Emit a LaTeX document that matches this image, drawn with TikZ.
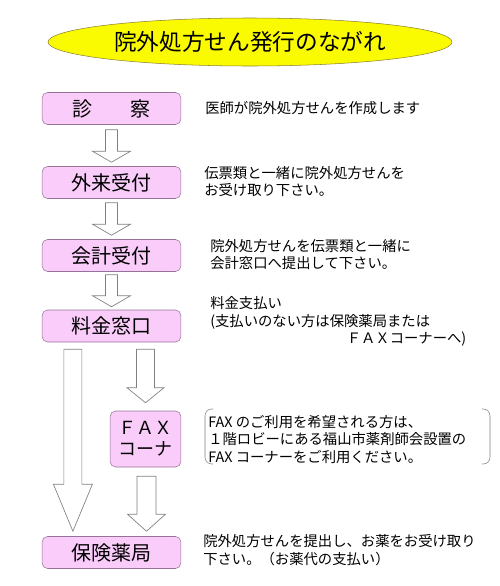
\documentclass[tikz,border=0pt]{standalone}
\usepackage{fontspec}
\setmainfont{Noto Sans CJK JP}
\usetikzlibrary{calc, positioning, shapes.geometric}
\definecolor{boxpink}{RGB}{250,204,250}
\definecolor{boxedge}{RGB}{150,115,150}
\definecolor{titleyellow}{RGB}{250,250,0}
\definecolor{titleedge}{RGB}{140,130,50}
\definecolor{arrowgray}{RGB}{128,128,128}
% hollow down arrow: top, tip, shaft half width, head half width, head length
\newcommand{\blockarrow}[5]{%
  \draw[hollow] ($(#1)+(-#3,0)$) -- ($(#2)+(-#3,-#5)$) -- ($(#2)+(-#4,-#5)$)
    -- (#2) -- ($(#2)+(#4,-#5)$) -- ($(#2)+(#3,-#5)$) -- ($(#1)+(#3,0)$) -- cycle;}

\begin{document}
\begin{tikzpicture}[
      x=0.75pt, y=-0.75pt,
      stepbox/.style={
        draw=boxedge,
        fill=boxpink,
        rounded corners=4pt,
        minimum width=104pt,
        minimum height=24pt,
        inner sep=0pt,
        font=\fontsize{15}{18}\selectfont
      },
      note/.style={anchor=west, align=left, inner sep=0pt,
        font=\fontsize{10.75}{13}\selectfont},
      hollow/.style={draw=arrowgray, fill=white, line width=0.5pt}
    ]
    \useasboundingbox (0,0) rectangle (500,586);

    \node[ellipse, draw=titleedge, fill=titleyellow, minimum width=303pt,
      minimum height=36pt, inner sep=0pt, font=\fontsize{17}{20}\selectfont]
      (title) at (250,42) {院外処方せん発行のながれ};

    \node[stepbox] (shin) at (111.5,108.5) {診\hspace{1.9em}察};
    \node[stepbox] (gairai) at (111.5,182.5) {外来受付};
    \node[stepbox] (kaikei) at (111.5,255.5) {会計受付};
    \node[stepbox] (ryokin) at (111.5,326) {料金窓口};
    \node[stepbox, minimum width=53pt, minimum height=42pt, align=center,
      font=\fontsize{13.5}{16}\selectfont] (fax) at (145.5,439) {ＦＡＸ\\コーナ};
    \node[stepbox] (hoken) at (111.5,552.5) {保険薬局};

    % descriptions
    \node[note] (shinnote) at (205,108) {医師が院外処方せんを作成します};
    \node[note] (gairainote) at (204,181.5) {伝票類と一緒に院外処方せんを\\お受け取り下さい。};
    \node[note] (kaikeinote) at (210,254.5) {院外処方せんを伝票類と一緒に\\会計窓口へ提出して下さい。};
    \node[note, text width=192pt] (ryokinnote) at (210,321.5)
      {料金支払い\\(支払いのない方は保険薬局または\\\hspace*{\fill}ＦＡＸコーナーへ)};
    \node[note] (faxnote) at (208,439.5)
      {FAX のご利用を希望される方は、\\１階ロビーにある福山市薬剤師会設置の\\FAX コーナーをご利用ください。};
    \node[note] (hokennote) at (203,550)
      {院外処方せんを提出し、お薬をお受け取り\\下さい。（お薬代の支払い）};

    % bracket round the FAX note
    \coordinate (brtl) at (205,409);
    \coordinate (brbr) at (490,464);
    \draw[arrowgray, rounded corners=5pt] ($(brtl)+(8,0)$) -- (brtl) -- (brtl |- brbr) -- ($(brtl |- brbr)+(8,0)$);
    \draw[arrowgray, rounded corners=5pt] ($(brbr |- brtl)+(-8,0)$) -- (brbr |- brtl) -- (brbr) -- ($(brbr)+(-8,0)$);

    % arrows
    \coordinate (a1s) at ($(shin.south)+(0,5)$);
    \coordinate (a1e) at ($(gairai.north)+(0,-4)$);
    \coordinate (a2s) at ($(gairai.south)+(0,4)$);
    \coordinate (a2e) at ($(kaikei.north)+(0,-4)$);
    \coordinate (a3s) at ($(kaikei.south)+(0,3)$);
    \coordinate (a3e) at ($(ryokin.north)+(0,-3)$);
    \coordinate (l1s) at ($(ryokin.south west)+(31,7)$);
    \coordinate (l1e) at ($(l1s |- hoken.north)+(0,-5)$);
    \coordinate (m1s) at ($(fax.north |- ryokin.south)+(0,7)$);
    \coordinate (m1e) at ($(fax.north)+(0,-8)$);
    \coordinate (m2s) at ($(fax.south)+(1,9)$);
    \coordinate (m2e) at ($(fax.south |- hoken.north)+(1,-5)$);

    \blockarrow{a1s}{a1e}{6}{19}{11}
    \blockarrow{a2s}{a2e}{6}{19}{11}
    \blockarrow{a3s}{a3e}{6}{19}{11}
    \blockarrow{l1s}{l1e}{9}{19.5}{47}
    \blockarrow{m1s}{m1e}{9}{18.5}{15}
    \blockarrow{m2s}{m2e}{9.5}{19}{17}
  \end{tikzpicture}
\end{document}
